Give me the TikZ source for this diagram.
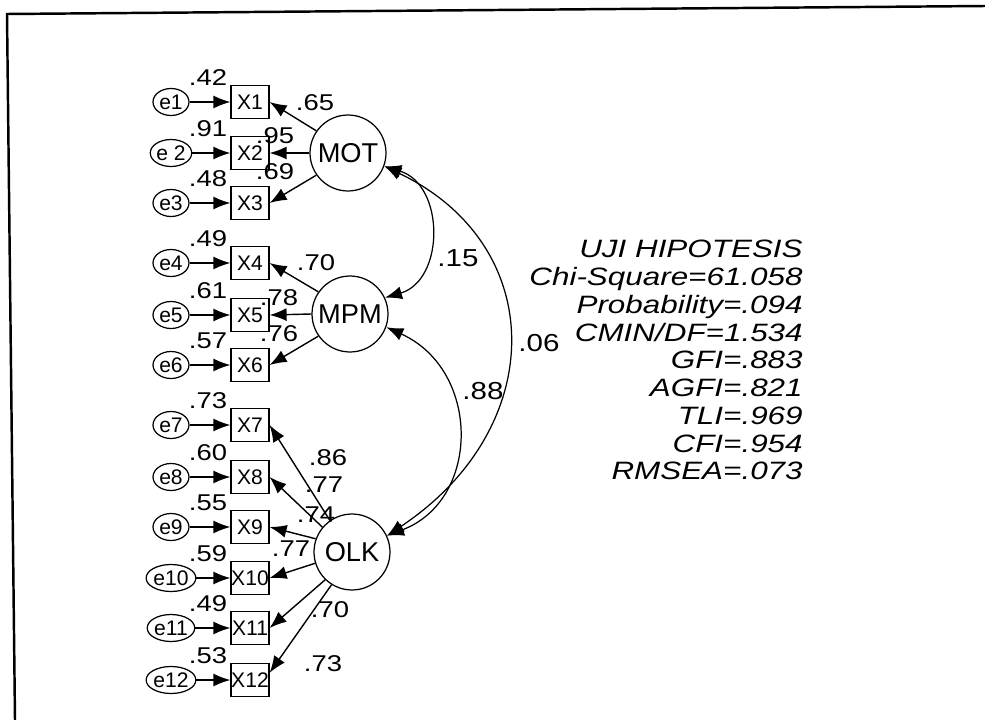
\documentclass[tikz,border=0pt]{standalone}
\usepackage{fontspec}
\setmainfont{Liberation Sans}
\newfontfamily\wideFont[FakeStretch=1.2]{Liberation Sans}
\newfontfamily\statFont[FakeStretch=1.25]{Liberation Sans}
\usetikzlibrary{arrows.meta,shapes.geometric}

\begin{document}
\begin{tikzpicture}[x=0.02cm, y=-0.02cm,
    errorEllipse/.style={draw, ellipse, minimum width=0.72cm, minimum height=0.54cm, inner sep=0pt, line width=0.7pt, font=\fontsize{12}{12}\selectfont},
    itemBox/.style={draw, rectangle, minimum width=0.76cm, minimum height=0.66cm, inner sep=0pt, line width=0.7pt, font=\fontsize{12}{12}\selectfont},
    latentCircle/.style={draw, circle, minimum size=1.52cm, inner sep=0pt, line width=0.7pt, font=\fontsize{15.5}{15.5}\selectfont},
    pathArrow/.style={-{Latex[length=0.34cm,width=0.26cm]}, line width=0.8pt},
    covArrow/.style={{Latex[length=0.34cm,width=0.26cm]}-{Latex[length=0.34cm,width=0.26cm]}, line width=0.7pt},
    loadLabel/.style={font=\wideFont\fontsize{13}{13}\selectfont, inner sep=0pt},
    covLabel/.style={font=\wideFont\fontsize{14}{14}\selectfont, inner sep=0pt}]

    % Fix page size
    \useasboundingbox (0,0) rectangle (985,720);

    % Draw frame
    \draw[line width=1.4pt] (15,720) -- (7,14) -- (985,6);

    % Draw error terms and items
    \foreach \n/\txt/\y/\r in {1/e1/102/.42, 2/e 2/153/.91, 3/e3/203/.48,
                               4/e4/263/.49, 5/e5/315/.61, 6/e6/365/.57,
                               7/e7/425/.73, 8/e8/477/.60, 9/e9/527/.55,
                               10/e10/578/.59, 11/e11/628/.49, 12/e12/680/.53}
    {
        \node[errorEllipse] (e\n) at (171,\y) {\txt};
        \node[itemBox] (x\n) at (250,\y) {X\n};
        \draw[pathArrow] (e\n) -- (x\n);
        \node[loadLabel] (r\n) at (208,\y-24) {\r};
    }

    % Draw latent variables
    \node[latentCircle] (mot) at (348,153) {MOT};
    \node[latentCircle] (mpm) at (350,314) {MPM};
    \node[latentCircle] (olk) at (352,552) {OLK};

    % Draw loadings
    \foreach \lat/\a/\b/\c in {mot/1/2/3, mpm/4/5/6}
    {
        \draw[pathArrow] (\lat.145) -- (x\a.east);
        \draw[pathArrow] (\lat.west) -- (x\b.east);
        \draw[pathArrow] (\lat.215) -- (x\c.east);
    }
    \draw[pathArrow] (olk.125) -- (x7.east);
    \draw[pathArrow] (olk.140) -- (x8.east);
    \draw[pathArrow] (olk.160) -- (x9.east);
    \draw[pathArrow] (olk.197) -- (x10.east);
    \draw[pathArrow] (olk.226) -- (x11.east);
    \draw[pathArrow] (olk.238) -- (x12.20);

    % Label loadings
    \node[loadLabel] (l1) at (315,103) {.65};
    \node[loadLabel] (l2) at (275,136) {.95};
    \node[loadLabel] (l3) at (275,172) {.69};
    \node[loadLabel] (l4) at (316,263) {.70};
    \node[loadLabel] (l5) at (279,298) {.78};
    \node[loadLabel] (l6) at (279,334) {.76};
    \node[loadLabel] (l7) at (328,458) {.86};
    \node[loadLabel] (l8) at (324,485) {.77};
    \node[loadLabel] (l9) at (316,515) {.74};
    \node[loadLabel] (l10) at (291,549) {.77};
    \node[loadLabel] (l11) at (330,610) {.70};
    \node[loadLabel] (l12) at (323,664) {.73};

    % Draw correlations
    \draw[covArrow] (mot.-20) .. controls (445,185) and (445,280) .. (mpm.25);
    \draw[covArrow] (mpm.-20) .. controls (481,370) and (481,500) .. (olk.25);
    \draw[covArrow] (mot.-20) .. controls (549,245) and (549,428) .. (olk.25);
    \node[covLabel] (c1) at (458,258) {.15};
    \node[covLabel] (c2) at (483,391) {.88};
    \node[covLabel] (c3) at (539,343) {.06};

    % Fit indices
    \node[font=\statFont\itshape\fontsize{14.3}{15.8}\selectfont, align=right,
          anchor=north east, inner sep=0pt] (fit) at (803,240)
        {UJI HIPOTESIS\\Chi-Square=61.058\\Probability=.094\\CMIN/DF=1.534\\GFI=.883\\AGFI=.821\\TLI=.969\\CFI=.954\\RMSEA=.073};

\end{tikzpicture}
\end{document}
